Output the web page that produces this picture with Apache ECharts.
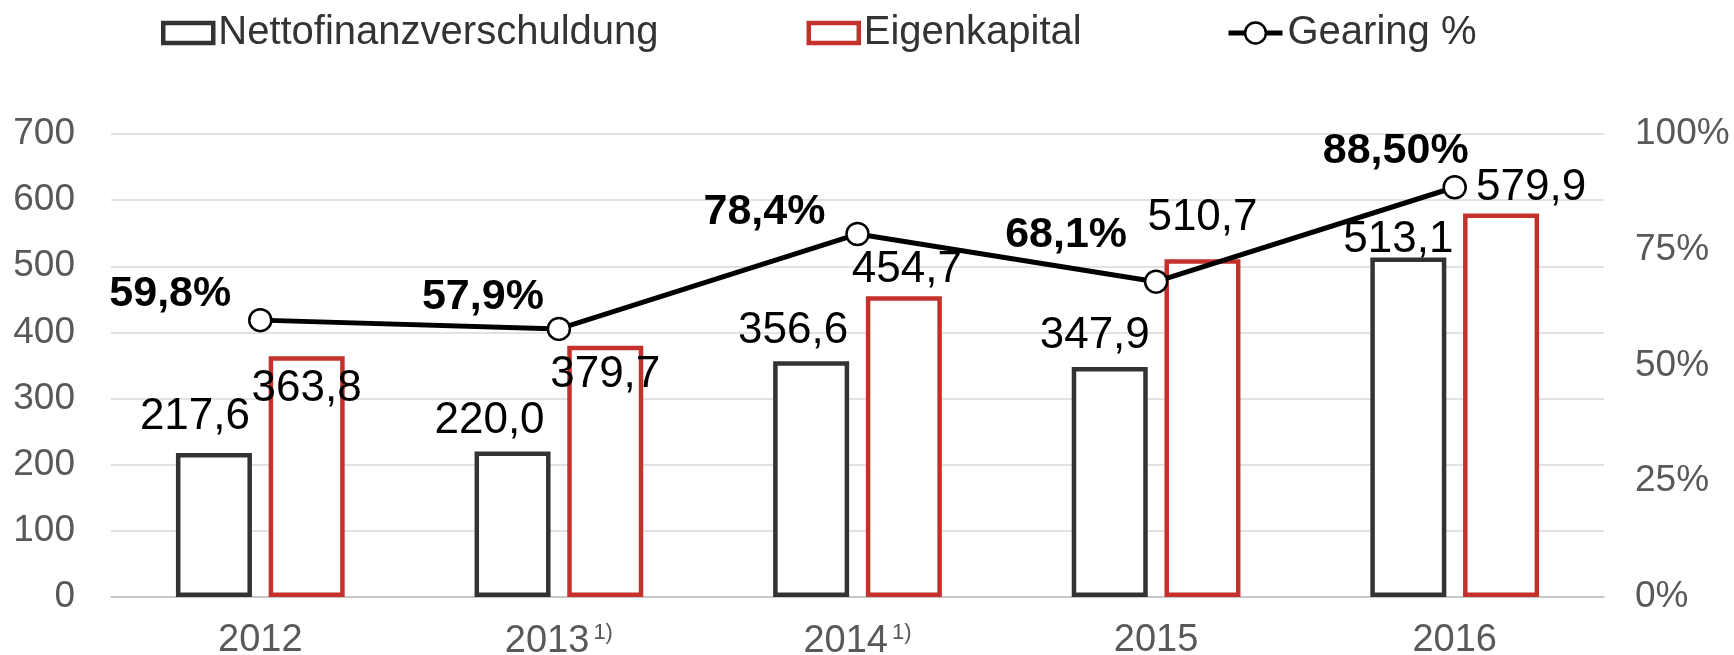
<!DOCTYPE html>
<html>
<head>
<meta charset="utf-8">
<script src="https://cdn.jsdelivr.net/npm/echarts@6/dist/echarts.min.js"></script>
<style>
html,body{margin:0;padding:0;background:#fff;}
#chart{width:1734px;height:655px;}
</style>
</head>
<body>
<div id="chart"></div>
<script>
const categories = ['2012', '2013', '2014', '2015', '2016'];
const footnotes = ['', '1)', '1)', '', ''];
const netto = [217.6, 220.0, 356.6, 347.9, 513.1];
const eigenkapital = [363.8, 379.7, 454.7, 510.7, 579.9];
const gearing = [59.8, 57.9, 78.4, 68.1, 88.5];
const gearingLabels = ['59,8%', '57,9%', '78,4%', '68,1%', '88,50%'];
const leftTicks = { min: 0, max: 700, interval: 100 };
const rightTicks = { min: 0, max: 100, interval: 25 };

const FONT = '"Liberation Sans", Arial, sans-serif';
const BLACK = '#333333';
const RED = '#C4302B';

// label placement tweaks (style, not data)
const nettoOff = [[-19, -14], [-23, -9], [-18, -8], [-15, -9], [-10, 4]];
const eigenOff = [[0, 54], [0, 51], [3, -4], [0, -19], [30, -4]];
const gearOff = [[-90, -26], [-76, -32], [-93, -22], [-90, -47], [-59, -36]];

function fmt(v) { return v.toFixed(1).replace('.', ','); }

const chart = echarts.init(document.getElementById('chart'), null, { renderer: 'canvas' });

const barLabel = { show: true, position: 'top', distance: 0, fontSize: 44, color: '#000', fontFamily: FONT };
const legendText = { fontSize: 40, color: '#333', fontFamily: FONT };

chart.setOption({
  animation: false,
  textStyle: { fontFamily: FONT },
  legend: [
    {
      top: 8,
      left: 156,
      itemWidth: 50,
      itemHeight: 20,
      itemGap: 148,
      textStyle: legendText,
      data: [
        { name: 'Nettofinanzverschuldung', icon: 'rect', itemStyle: { color: '#fff', borderColor: BLACK, borderWidth: 4.5 } },
        { name: 'Eigenkapital', icon: 'rect', itemStyle: { color: '#fff', borderColor: RED, borderWidth: 4.5 } }
      ]
    },
    {
      top: 8,
      left: 1221,
      itemWidth: 54,
      itemHeight: 26,
      textStyle: legendText,
      data: [
        { name: 'Gearing %', lineStyle: { color: '#000', width: 5 }, itemStyle: { color: '#fff', borderColor: '#000', borderWidth: 2.5 } }
      ]
    }
  ],
  grid: { left: 111, right: 130, top: 134, bottom: 58, containLabel: false, outerBoundsMode: 'none' },
  xAxis: {
    type: 'category',
    data: categories,
    axisTick: { show: false },
    axisLine: { lineStyle: { color: '#bfbfbf', width: 1.5 } },
    axisLabel: {
      margin: 25,
      formatter: function (v, i) {
        return footnotes[i] ? '{a|' + v + '}{s|' + footnotes[i] + '}' : '{a|' + v + '}';
      },
      rich: {
        a: { fontSize: 38, color: '#595959', fontFamily: FONT },
        s: { fontSize: 22, color: '#595959', fontFamily: FONT, padding: [0, 0, 18, 4] }
      }
    }
  },
  yAxis: [
    {
      type: 'value', min: leftTicks.min, max: leftTicks.max, interval: leftTicks.interval,
      axisLabel: { fontSize: 37, color: '#595959', margin: 36, fontFamily: FONT },
      splitLine: { lineStyle: { color: '#d9d9d9', width: 1.5 } },
      axisLine: { show: false }, axisTick: { show: false }
    },
    {
      type: 'value', min: rightTicks.min, max: rightTicks.max, interval: rightTicks.interval,
      axisLabel: { fontSize: 37, color: '#595959', margin: 31, formatter: '{value}%', fontFamily: FONT },
      splitLine: { show: false },
      axisLine: { show: false }, axisTick: { show: false }
    }
  ],
  series: [
    {
      name: 'Nettofinanzverschuldung',
      type: 'bar',
      barWidth: 76,
      barGap: '22%',
      itemStyle: { color: '#fff', borderColor: BLACK, borderWidth: 4.5 },
      data: netto.map((v, i) => ({ value: v, label: Object.assign({}, barLabel, { offset: nettoOff[i] }) })),
      label: { formatter: p => fmt(p.value) }
    },
    {
      name: 'Eigenkapital',
      type: 'bar',
      barWidth: 76,
      itemStyle: { color: '#fff', borderColor: RED, borderWidth: 4.5 },
      data: eigenkapital.map((v, i) => ({ value: v, label: Object.assign({}, barLabel, { offset: eigenOff[i] }) })),
      label: { formatter: p => fmt(p.value) }
    },
    {
      name: 'Gearing %',
      type: 'line',
      yAxisIndex: 1,
      z: 5,
      symbol: 'circle',
      symbolSize: 22,
      lineStyle: { color: '#000', width: 5 },
      itemStyle: { color: '#fff', borderColor: '#000', borderWidth: 2.5 },
      data: gearing.map((v, i) => ({
        value: v,
        label: {
          show: true, position: 'inside', offset: gearOff[i],
          fontSize: 43, fontWeight: 'bold', color: '#000', fontFamily: FONT,
          formatter: () => gearingLabels[i]
        }
      }))
    }
  ]
});
</script>
</body>
</html>
